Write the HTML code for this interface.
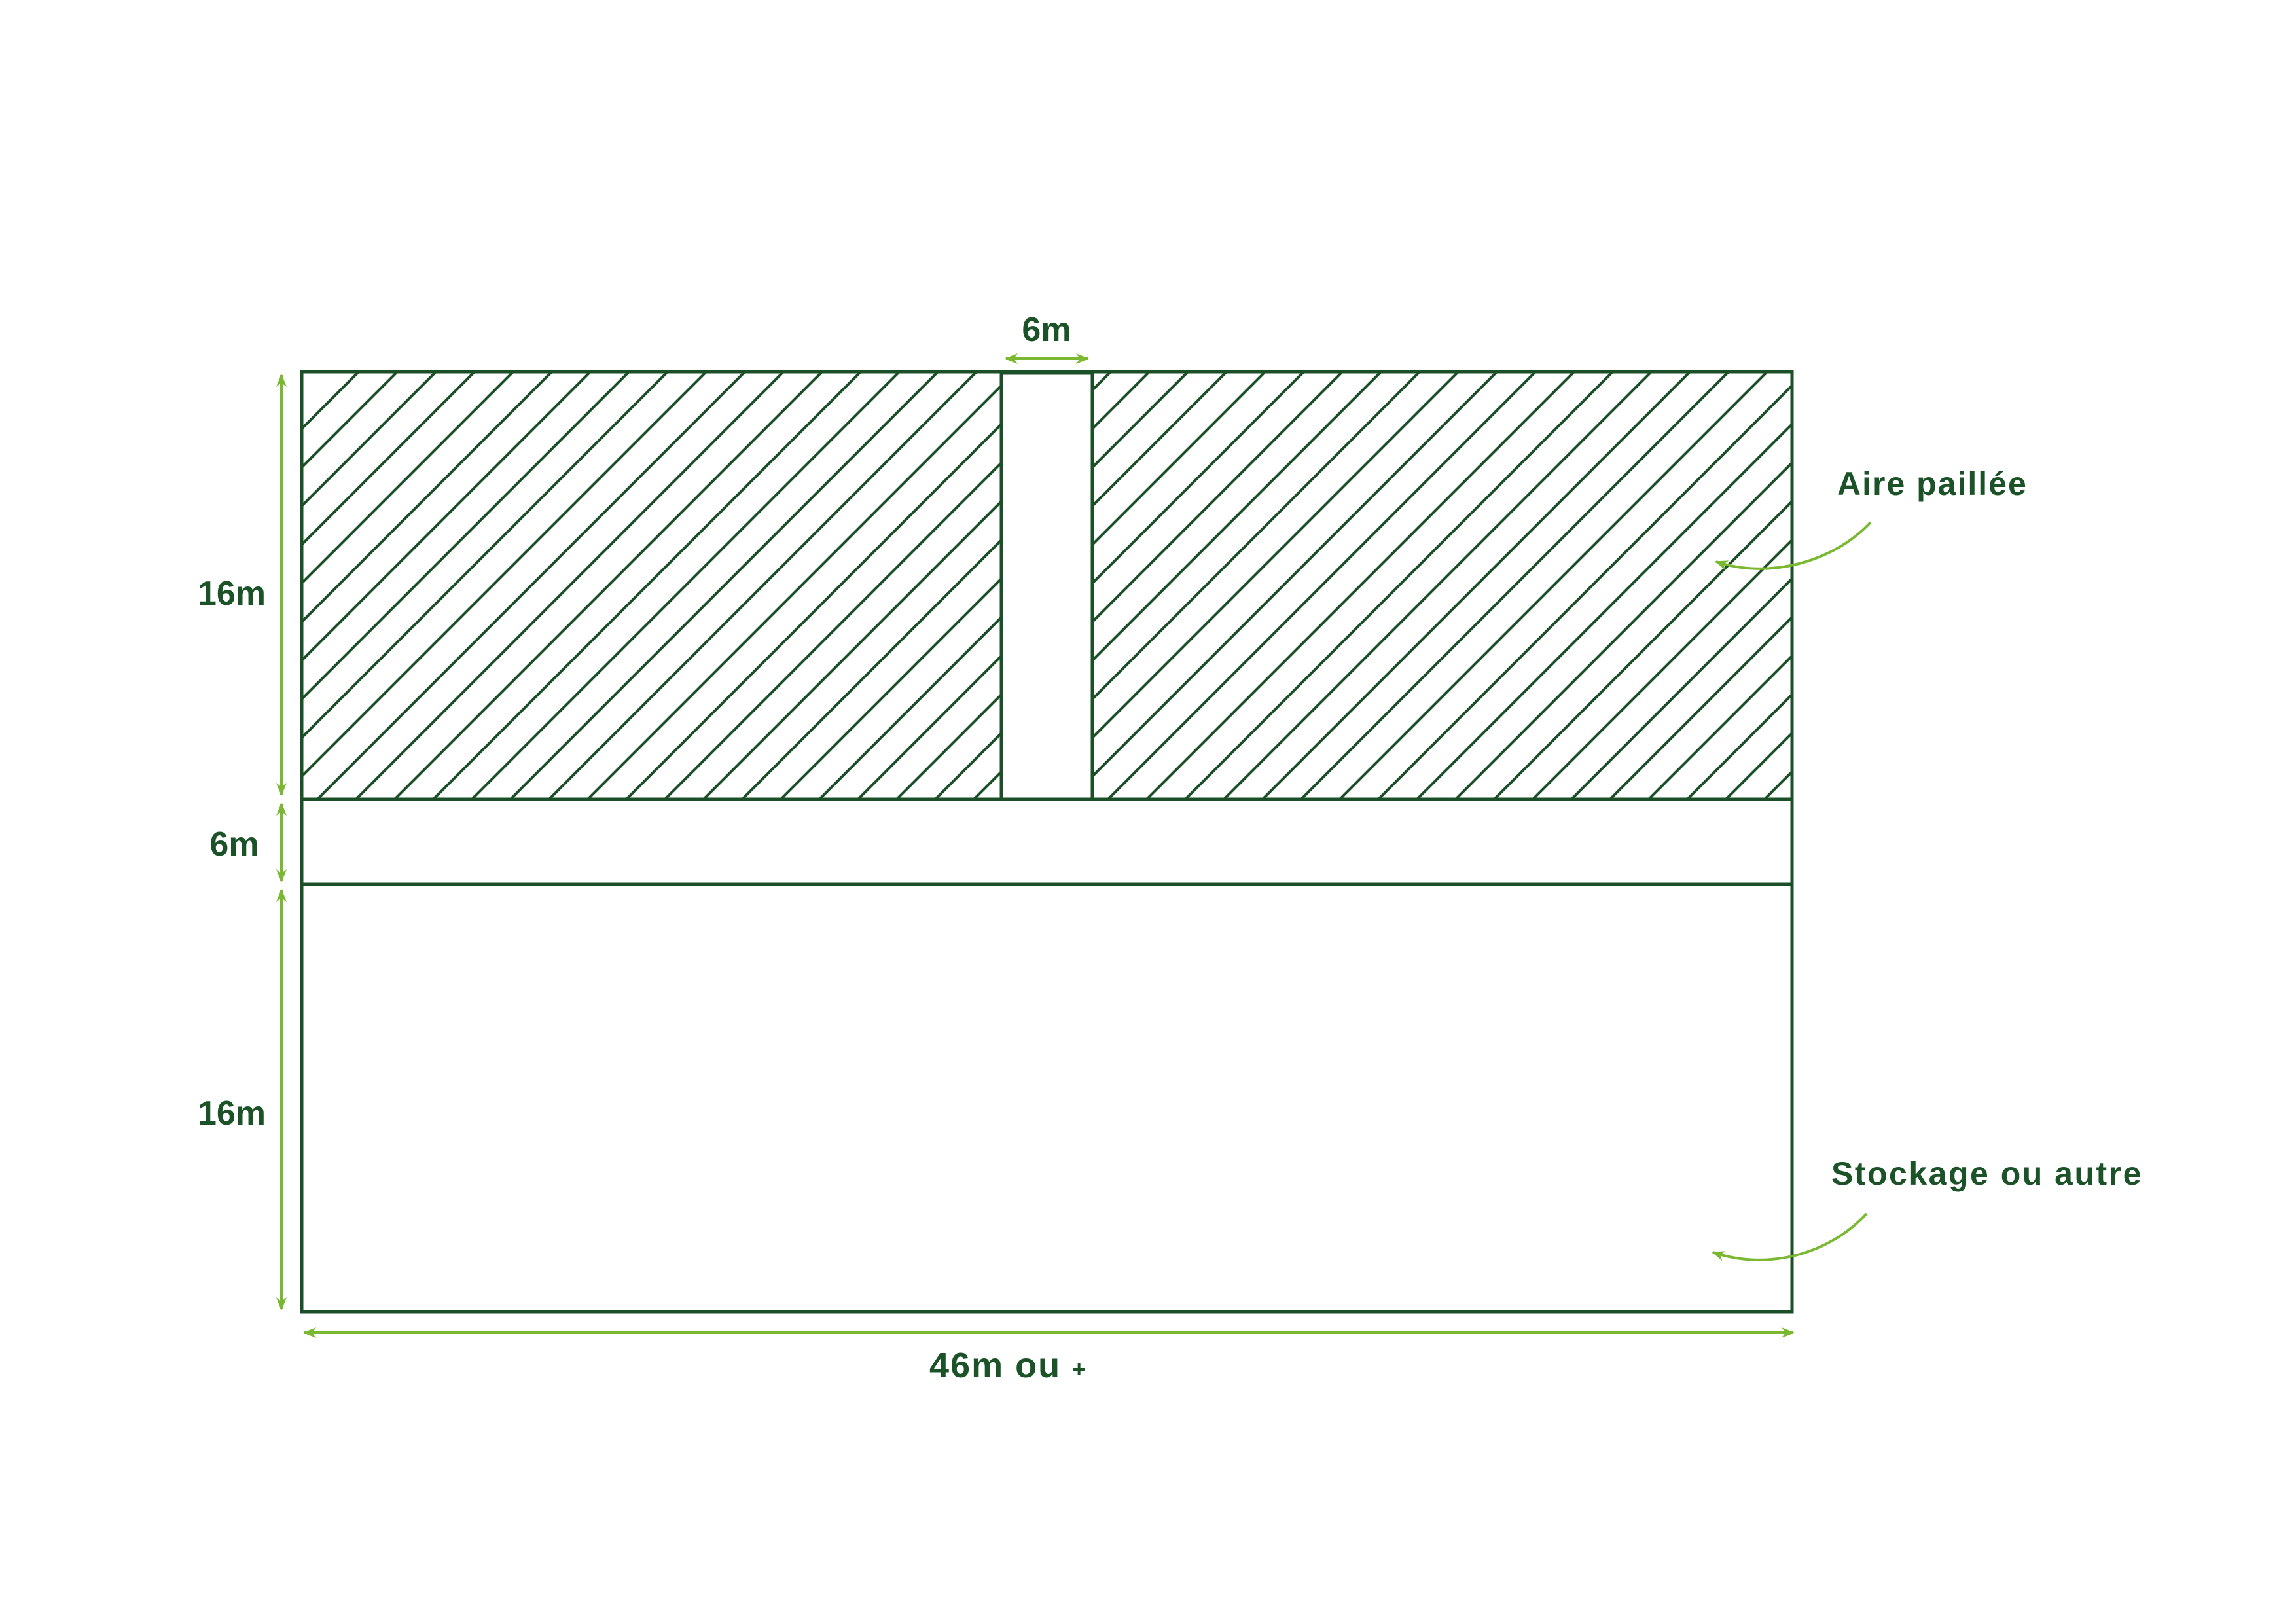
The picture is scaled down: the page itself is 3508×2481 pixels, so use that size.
<!DOCTYPE html>
<html><head><meta charset="utf-8"><style>
html,body{margin:0;padding:0;background:#fff;}
svg{display:block;}
text{font-family:"Liberation Sans",sans-serif;font-weight:bold;fill:#1b5227;}
</style></head><body>
<svg width="3508" height="2481" viewBox="0 0 3508 2481" xmlns="http://www.w3.org/2000/svg">
<defs>
<clipPath id="cl"><rect x="461" y="568" width="1069" height="653"/></clipPath>
<clipPath id="cr"><rect x="1669" y="568" width="1069" height="653"/></clipPath>
<marker id="ah" viewBox="0 0 20 20" refX="18" refY="10" markerWidth="20" markerHeight="20" markerUnits="userSpaceOnUse" orient="auto-start-reverse">
<path d="M0,2 L20,10 L0,18 L6,10 Z" fill="#7ab832"/></marker>
</defs>
<g fill="none" stroke="#1b4f28" stroke-width="5">
<rect x="461" y="568" width="2277" height="1436"/>
<line x1="461" y1="1221" x2="2738" y2="1221"/>
<line x1="461" y1="1351" x2="2738" y2="1351"/>
<rect x="1530" y="570" width="139" height="651"/>
</g>
<g stroke="#7ab832" stroke-width="4" fill="none">
<line x1="430" y1="573" x2="430" y2="1214" marker-start="url(#ah)" marker-end="url(#ah)"/>
<line x1="430" y1="1228" x2="430" y2="1346" marker-start="url(#ah)" marker-end="url(#ah)"/>
<line x1="430" y1="1360" x2="430" y2="2000" marker-start="url(#ah)" marker-end="url(#ah)"/>
<line x1="465" y1="2036" x2="2740" y2="2036" marker-start="url(#ah)" marker-end="url(#ah)"/>
<line x1="1537" y1="548" x2="1662" y2="548" marker-start="url(#ah)" marker-end="url(#ah)"/>
<path d="M2858,798 C2800,860 2700,885 2622,858" marker-end="url(#ah)"/>
<path d="M2852,1854 C2795,1916 2700,1942 2617,1913" marker-end="url(#ah)"/>
</g>
<text x="354" y="924" font-size="52" text-anchor="middle">16m</text>
<text x="358" y="1307" font-size="52" text-anchor="middle">6m</text>
<text x="354" y="1718" font-size="52" text-anchor="middle">16m</text>
<text x="1599" y="521" font-size="52" text-anchor="middle">6m</text>
<text x="1420" y="2104" font-size="54" letter-spacing="2">46m ou <tspan font-size="36">+</tspan></text>
<text x="2807" y="756" font-size="50" letter-spacing="2">Aire paillée</text>
<text x="2798" y="1810" font-size="50" letter-spacing="2.5">Stockage ou autre</text>
</svg>
<script>
(function(){
var ns="http://www.w3.org/2000/svg",svg=document.querySelector('svg');
function hatch(clip,start,from){
 var g=document.createElementNS(ns,'g');
 g.setAttribute('stroke','#1b4f28');g.setAttribute('stroke-width','4');
 g.setAttribute('clip-path','url(#'+clip+')');
 for(var c=from;c<start+59*40;c+=59){
  var l=document.createElementNS(ns,'line');
  l.setAttribute('x1',c-400);l.setAttribute('y1',400);
  l.setAttribute('x2',c-1400);l.setAttribute('y2',1400);
  g.appendChild(l);
 }
 svg.insertBefore(g,svg.children[1]);
}
hatch('cl',1116,1116);hatch('cr',2324,2324-59*40);
})();
</script>
</body></html>
